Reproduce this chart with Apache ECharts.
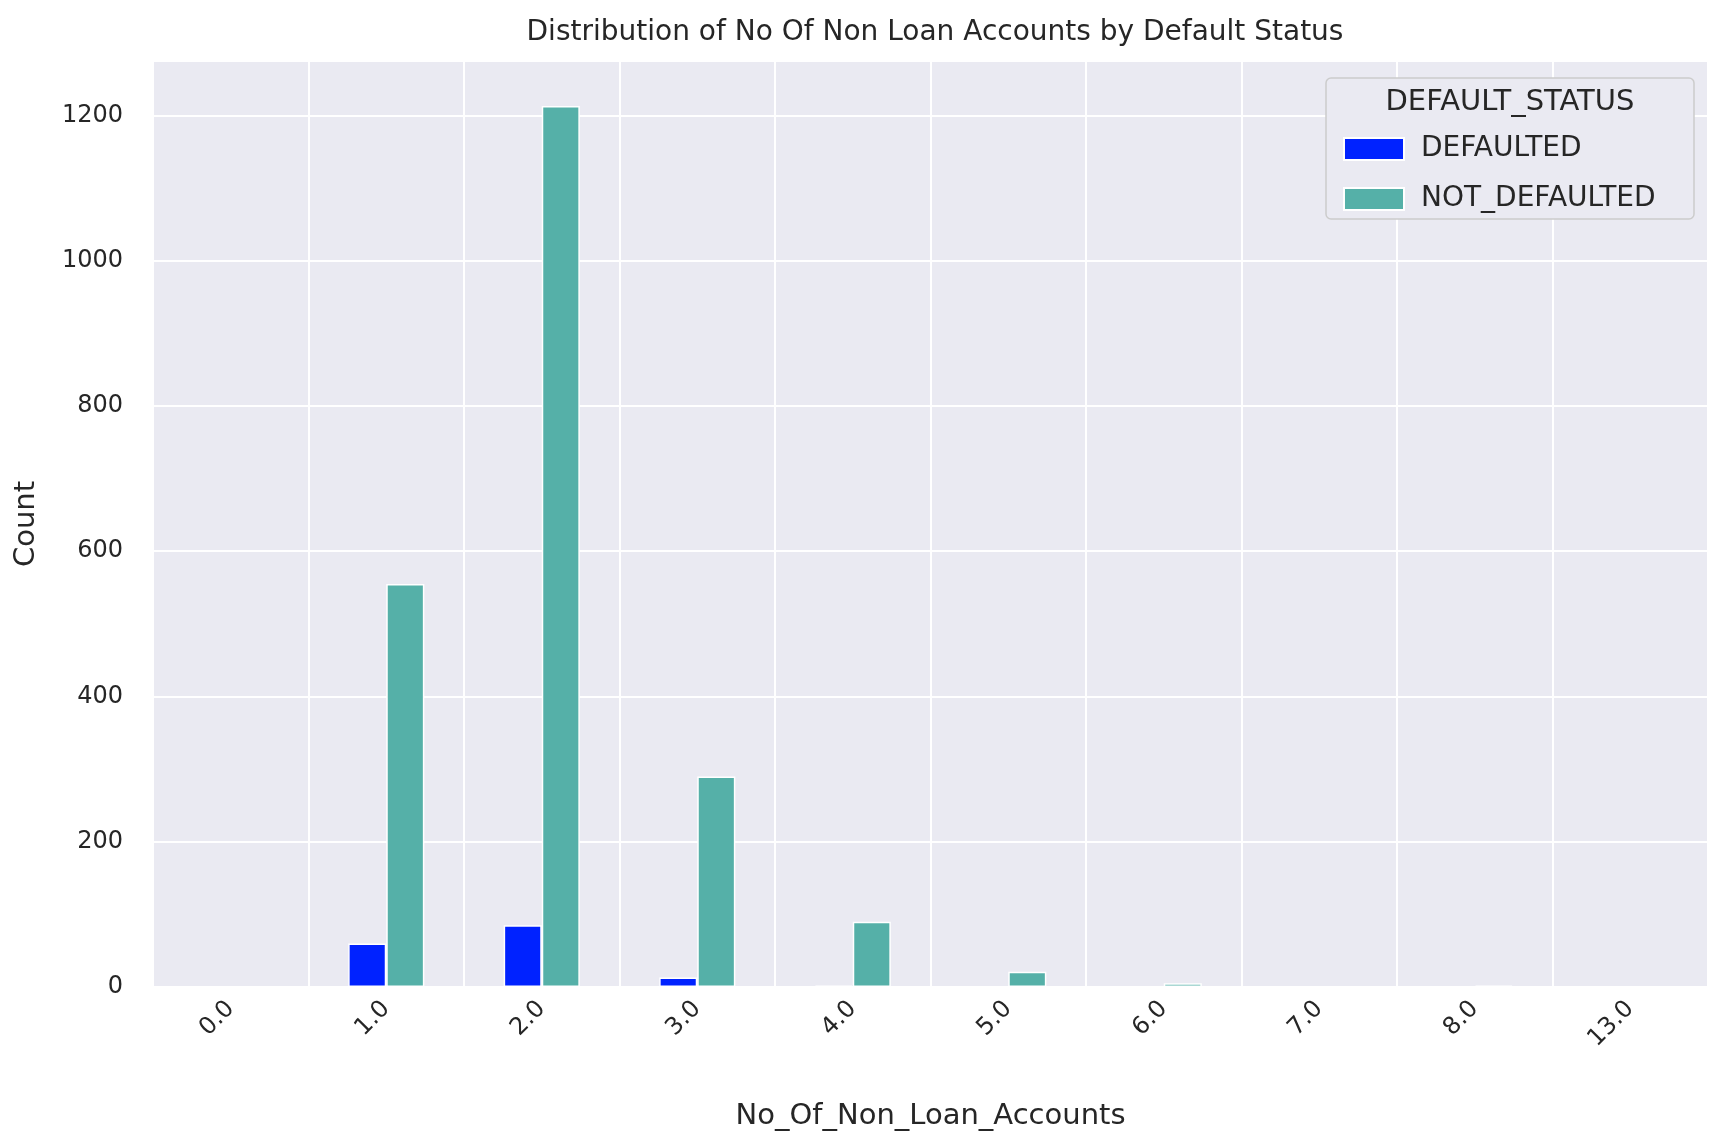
<!DOCTYPE html>
<html><head><meta charset="utf-8">
<script src="https://cdn.jsdelivr.net/npm/echarts@6/dist/echarts.min.js"></script>
<style>html,body{margin:0;background:#fff}#c{width:1730px;height:1138px}</style>
</head><body><div id="c"></div>
<script>
const categories = ['0.0','1.0','2.0','3.0','4.0','5.0','6.0','7.0','8.0','13.0'];
const defaulted = [0, 60, 85, 13, 2, 1, 0, 0, 0, 0];
const notDefaulted = [0, 555, 1213, 290, 90, 21, 5, 1, 2, 0];
const yTicks = [0, 200, 400, 600, 800, 1000, 1200];
const F = 'DejaVu Sans, Arial, sans-serif';
const chart = echarts.init(document.getElementById('c'));
chart.setOption({
  animation: false,
  title: {text: 'Distribution of No Of Non Loan Accounts by Default Status', left: 930, top: 14, textAlign: 'center',
    textStyle: {fontFamily: F, fontSize: 28, fontWeight: 'normal', color: '#262626'}},
  grid: {left: 153, right: 22, top: 61, bottom: 151, backgroundColor: '#eaeaf2', show: true, borderWidth: 0},
  graphic: [
    {type: 'rect', shape: {x: 1326, y: 78, width: 368, height: 141, r: 5}, style: {fill: '#eaeaf2', stroke: '#cccccc', lineWidth: 1.5}, z: 10},
    {type: 'text', x: 1510, y: 102, style: {text: 'DEFAULT_STATUS', font: '29px ' + F, fill: '#262626', align: 'center', verticalAlign: 'middle'}, z: 11}
  ],
  legend: {orient: 'vertical', left: 1338, top: 130, itemWidth: 60, itemHeight: 22, itemGap: 22, z: 12,
    textStyle: {fontFamily: F, fontSize: 28, color: '#262626', padding: [0,0,0,12]}, icon: 'rect'},
  xAxis: {type: 'category', data: categories, name: 'No_Of_Non_Loan_Accounts', nameLocation: 'middle', nameGap: 115,
    nameTextStyle: {fontFamily: F, fontSize: 29, color: '#262626'},
    axisLine: {show: false}, axisTick: {show: false},
    axisLabel: {rotate: 45, fontFamily: F, fontSize: 24, color: '#262626', margin: 18},
    splitLine: {show: true, interval: 0, lineStyle: {color: '#fff', width: 2}}},
  yAxis: {type: 'value', min: 0, max: 1275, interval: 200, name: 'Count', nameLocation: 'middle', nameGap: 112,
    nameTextStyle: {fontFamily: F, fontSize: 29, color: '#262626'},
    axisLabel: {fontFamily: F, fontSize: 24, color: '#262626', margin: 30, showMaxLabel: false,
      formatter: v => yTicks.includes(v) ? String(v) : ''},
    splitLine: {lineStyle: {color: '#fff', width: 2}}},
  series: [
    {name: 'DEFAULTED', type: 'bar', data: defaulted, barWidth: '24.5%', barGap: '0%',
      itemStyle: {color: '#0022ff', borderColor: '#fff', borderWidth: 1.5}},
    {name: 'NOT_DEFAULTED', type: 'bar', data: notDefaulted, barWidth: '24.5%',
      itemStyle: {color: '#55b0a8', borderColor: '#fff', borderWidth: 1.5}}
  ]
});
</script></body></html>
